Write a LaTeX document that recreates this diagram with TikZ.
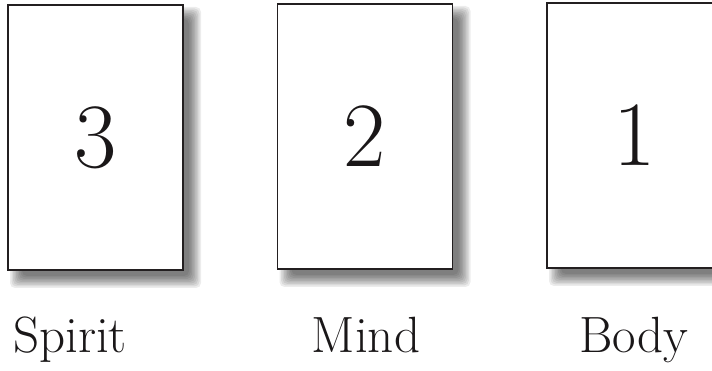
\documentclass[tikz,border=0pt]{standalone}
\usepackage{xcolor}
\usetikzlibrary{positioning}
\definecolor{cardEdge}{HTML}{231F20}
\definecolor{inkBlack}{HTML}{1A1718}

\begin{document}
\begin{tikzpicture}[x=1pt,y=-1pt,
  card/.style={draw=cardEdge,line width=1.7pt,fill=white,minimum width=175pt,minimum height=265pt,inner sep=0pt},
  cardnum/.style={text=inkBlack,font=\fontsize{92}{92}\selectfont},
  cardword/.style={text=inkBlack,font=\fontsize{51}{51}\selectfont,anchor=base}]
\useasboundingbox (0,0) rectangle (712,371);
\def\cw{87.5}\def\ch{132.5}
% soft shadows behind the cards
\foreach \cx/\cy in {95.5/137.5, 365/136.5, 634.5/135.5}{
  \foreach \e in {8,6.5,...,-5}{
    \fill[black,opacity=0.075,rounded corners=5pt]
      (\cx-\cw+10-\e,\cy-\ch+10-\e) rectangle (\cx+\cw+10+\e,\cy+\ch+10+\e);
  }
}
% cards, numbers and names
\foreach \nm/\cx/\cy/\num/\lx/\word in {spirit/95.5/137.5/3/70/Spirit, mind/365/136.5/2/366/Mind, body/634.5/135.5/1/634/Body}{
  \node[card] (card\nm) at (\cx,\cy) {};
  \node[cardnum] (num\nm) at (card\nm.center) {\num};
  \node[cardword] (word\nm) at (\lx,352) {\word};
}
\end{tikzpicture}
\end{document}
